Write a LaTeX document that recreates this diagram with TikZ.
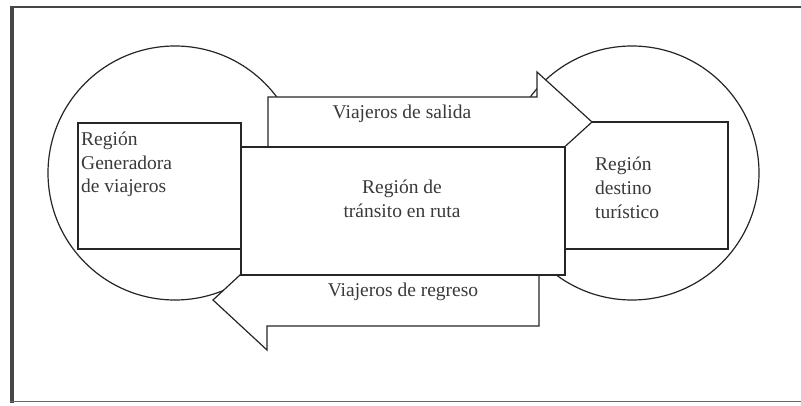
\documentclass[tikz,border=0pt]{standalone}
\usepackage{fontspec}
\setmainfont{Liberation Serif}
\definecolor{ink}{HTML}{262626}
\definecolor{txt}{HTML}{3A3A3A}
\begin{document}
\begin{tikzpicture}[x=1pt,y=-1pt,
  shapeline/.style={draw=ink,line width=1.2pt,fill=white,line join=miter},
  lbl/.style={font=\fontsize{19.5}{23}\selectfont,text=txt,inner sep=0pt}]
\useasboundingbox (0,0) rectangle (801,406);
% outer frame
\draw[draw=ink!85,line width=4pt] (12,6) -- (12,403);
\draw[draw=ink!85,line width=2pt] (10,7) -- (801,7);
\draw[draw=ink!70,line width=1.4pt] (10,401.5) -- (801,401.5);
% circles
\node[shapeline,circle,minimum size=254pt,inner sep=0pt] (cl) at (175,173) {};
\node[shapeline,circle,minimum size=254pt,inner sep=0pt] (cr) at (632,173) {};
% side boxes
\coordinate (lbA) at (78,123); \coordinate (lbB) at (241,249);
\coordinate (rbA) at (565,122); \coordinate (rbB) at (728,249);
\draw[shapeline] (lbA) rectangle (lbB);
\draw[shapeline] (rbA) rectangle (rbB);
% upper arrow (towards destination)
\draw[shapeline] (268,97) -- (537,97) -- (537,72) -- (592,122) -- (537,172) -- (537,147) -- (268,147) -- cycle;
% lower arrow (return)
\draw[shapeline] (539,275) -- (267,275) -- (267,250) -- (213,300) -- (267,350) -- (267,326) -- (539,326) -- cycle;
% central box
\coordinate (cbA) at (241,147); \coordinate (cbB) at (565,275);
\draw[shapeline] (cbA) rectangle (cbB);
% texts
\node[lbl,anchor=base] (tsal) at (402,119) {Viajeros de salida};
\node[lbl,anchor=base] (treg) at (403,297) {Viajeros de regreso};
\node[lbl,anchor=base] (tc1) at (402,194) {Región de};
\node[lbl,anchor=base] (tc2) at (402,218) {tránsito en ruta};
\node[lbl,anchor=base west] (tl1) at (81,146) {Región};
\node[lbl,anchor=base west] (tl2) at (81,170) {Generadora};
\node[lbl,anchor=base west] (tl3) at (81,193) {de viajeros};
\node[lbl,anchor=base west] (tr1) at (595,171) {Región};
\node[lbl,anchor=base west] (tr2) at (595,195) {destino};
\node[lbl,anchor=base west] (tr3) at (595,219) {turístico};
\end{tikzpicture}
\end{document}
